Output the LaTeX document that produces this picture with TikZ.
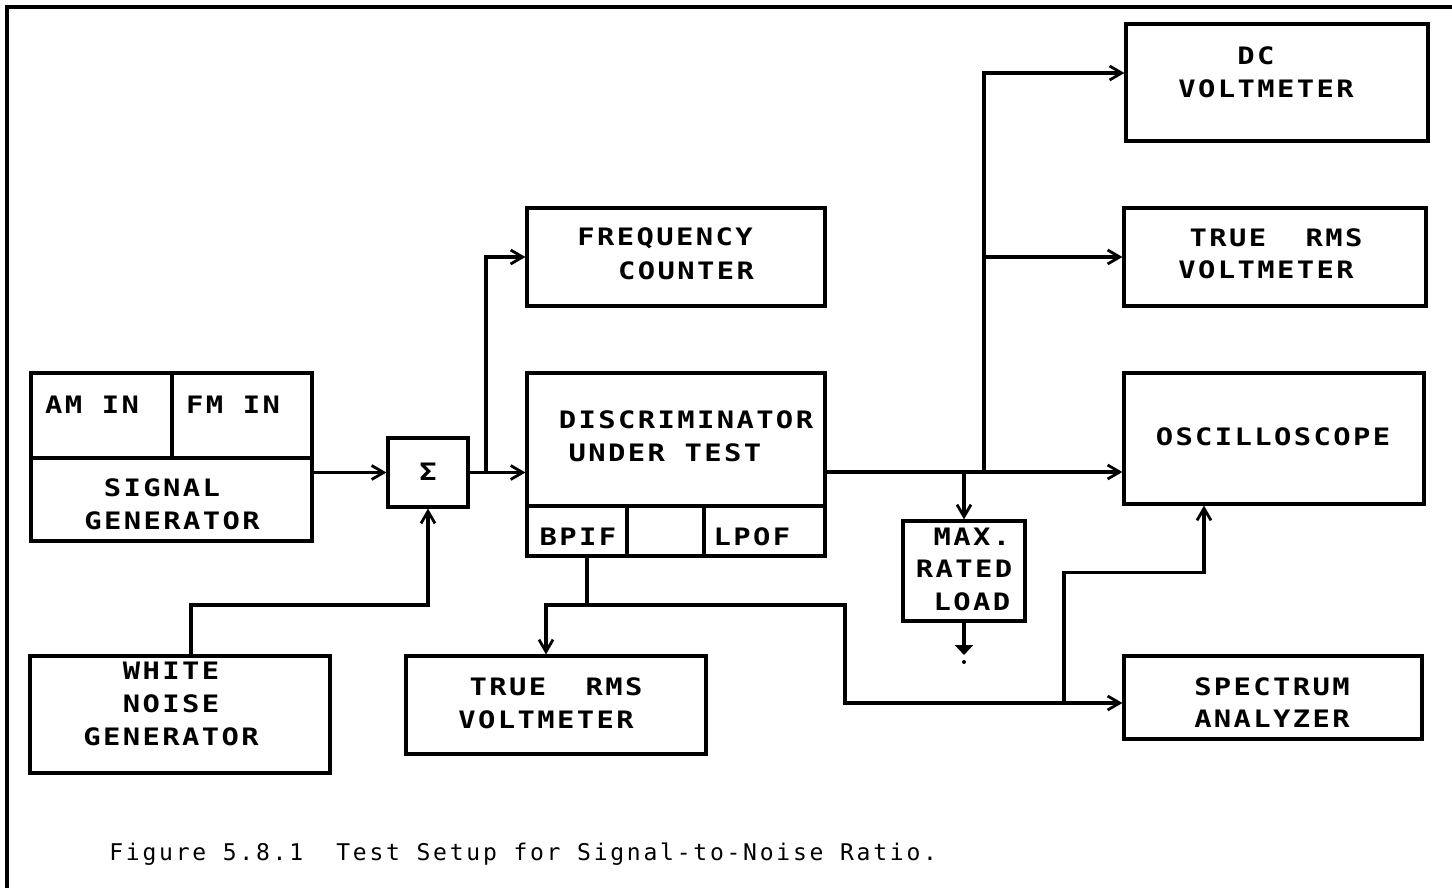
\documentclass[tikz,border=0pt]{standalone}
\usepackage{fontspec}
\usetikzlibrary{arrows.meta,calc}
\newfontfamily\boxfont{DejaVu Sans Mono}[FakeStretch=1.2,LetterSpace=10]
\newfontfamily\capfont{DejaVu Sans Mono}[LetterSpace=12]
\begin{document}
\begin{tikzpicture}[x=0.5pt,y=-0.5pt,
  blk/.style={draw, line width=1.6pt, inner sep=0pt},
  txt/.style={font=\boxfont\bfseries\fontsize{12}{14}\selectfont, inner sep=0pt},
  conn/.style={line width=1.6pt},
  arr/.style={conn, -{Straight Barb[length=6pt,width=7pt,line width=1.4pt]}},
  cell/.style={line width=1.6pt}]
\useasboundingbox (0,0) rectangle (1452,888);
% frame
\draw[line width=1.6pt] (7,888) -- (7,7) -- (1452,7);

% boxes
\node[blk, minimum width=140.5pt, minimum height=84pt] (sg) at (171.5,457) {};
\node[blk, minimum width=40pt, minimum height=34.5pt] (sig) at (428,472.5) {};
\node[blk, minimum width=150pt, minimum height=58.5pt] (wn) at (180,714.5) {};
\node[blk, minimum width=149pt, minimum height=49pt] (fc) at (676,257) {};
\node[blk, minimum width=149pt, minimum height=91.5pt] (dut) at (676,464.5) {};
\node[blk, minimum width=150pt, minimum height=49pt] (rms1) at (556,705) {};
\node[blk, minimum width=61pt, minimum height=50pt] (load) at (964,571) {};
\node[blk, minimum width=151pt, minimum height=58.5pt] (dcv) at (1277,82.5) {};
\node[blk, minimum width=151pt, minimum height=49pt] (rms2) at (1275,257) {};
\node[blk, minimum width=150pt, minimum height=65.5pt] (osc) at (1274,438.5) {};
\node[blk, minimum width=149pt, minimum height=41.5pt] (sa) at (1273,697.5) {};

% inner cells
\draw[cell] (31,458) -- (312,458);
\draw[cell] (172,373) -- (172,458);
\draw[cell] (527,506) -- (825,506);
\draw[cell] (627,506) -- (627,556);
\draw[cell] (704,506) -- (704,556);

% texts
\node[txt] (t-am) at (92,405) {AM IN};
\node[txt] (t-fm) at (233,405) {FM IN};
\node[txt] (t-sg1) at (162,488) {SIGNAL};
\node[txt] (t-sg2) at (172,521) {GENERATOR};
\node[txt] (t-sig) at (428,472) {Σ};
\node[txt] (t-wn1) at (171,671) {WHITE};
\node[txt] (t-wn2) at (171,704) {NOISE};
\node[txt] (t-wn3) at (171,737) {GENERATOR};
\node[txt] (t-fc1) at (665,238) {FREQUENCY};
\node[txt] (t-fc2) at (686,271) {COUNTER};
\node[txt] (t-d1) at (686,420) {DISCRIMINATOR};
\node[txt] (t-d2) at (665,453) {UNDER TEST};
\node[txt] (t-bp) at (578,537) {BPIF};
\node[txt] (t-lp) at (752,537) {LPOF};
\node[txt] (t-r1a) at (556,687) {TRUE~~RMS};
\node[txt] (t-r1b) at (546,720) {VOLTMETER};
\node[txt] (t-l1) at (972,537) {MAX.};
\node[txt] (t-l2) at (964,569) {RATED};
\node[txt] (t-l3) at (972,602) {LOAD};
\node[txt] (t-dc1) at (1256,56) {DC};
\node[txt] (t-dc2) at (1266,89) {VOLTMETER};
\node[txt] (t-r2a) at (1276,238) {TRUE~~RMS};
\node[txt] (t-r2b) at (1266,270) {VOLTMETER};
\node[txt] (t-osc) at (1273,437) {OSCILLOSCOPE};
\node[txt] (t-sa1) at (1272,687) {SPECTRUM};
\node[txt] (t-sa2) at (1272,719) {ANALYZER};

% caption
\node[anchor=base west, inner sep=0pt, font=\capfont\fontsize{11.5}{13}\selectfont] (cap) at (109,860)
  {Figure 5.8.1~~Test Setup for Signal-to-Noise Ratio.};

% coordinates
\coordinate (j1) at (428,605);
\coordinate (b1) at (486,472.5);
\coordinate (dout) at (825,472);
\coordinate (vb) at (984,472);
\coordinate (bp) at (587,605);
\coordinate (sk) at (845,703);
\coordinate (sb) at (1064,703);
\coordinate (gnd) at (964,655);

% connectors
\draw[arr] (sig.west -| sg.east) -- (sig.west);
\draw[arr] ([xshift=5.5pt]wn.north) |- (j1) -- (sig.south);
\draw[arr] (sig.east) -- (sig.east -| dut.west);
\draw[arr] (b1) |- (fc.west);
\draw[arr] (dout) -- (dout -| osc.west);
\draw[arr] (dout -| load.north) -- (load.north);
\draw[arr] (vb) |- ([yshift=4.75pt]dcv.west);
\draw[arr] (vb |- rms2.west) -- (rms2.west);
\draw[conn, -{Triangle[length=5pt,width=9pt]}] (load.south) -- (gnd);
\node[circle, fill, inner sep=0pt, minimum size=2pt] (gdot) at (964,662) {};
\draw[conn] ([xshift=-44.5pt]dut.south) -- (bp);
\draw[arr] (bp) -| ([xshift=-5pt]rms1.north);
\draw[arr] (bp) -| (sk) -- (sk -| sa.west);
\draw[arr] (sb) |- ([xshift=-35pt,yshift=-33.5pt]osc.south) -- ([xshift=-35pt]osc.south);
\end{tikzpicture}
\end{document}
